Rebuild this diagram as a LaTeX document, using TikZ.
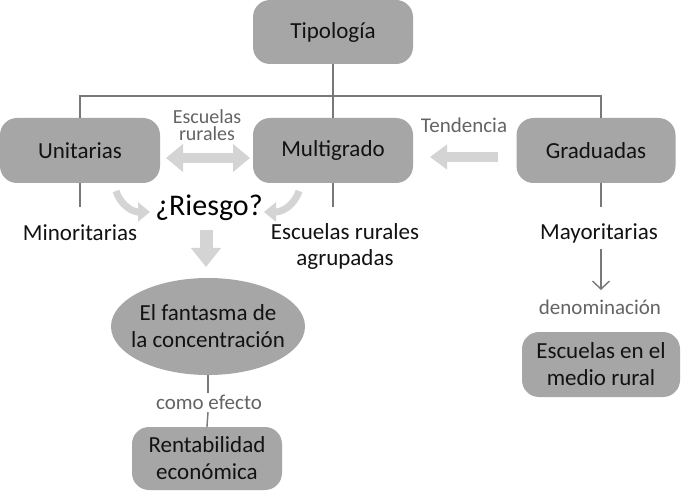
\documentclass[tikz,border=0pt]{standalone}
\usepackage{fontspec}
\setmainfont{Carlito}
\usetikzlibrary{arrows.meta,shapes.geometric}
\definecolor{boxgray}{RGB}{166,166,166}
\definecolor{linegray}{RGB}{120,120,120}
\definecolor{arrowgray}{RGB}{212,212,212}
\definecolor{txtgray}{RGB}{100,100,100}
\definecolor{txtdark}{RGB}{18,18,18}
\tikzset{
  box/.style={draw=none, fill=boxgray, rounded corners=17pt, align=center,
    text=txtdark, font=\fontsize{23}{27}\selectfont, inner sep=0pt},
  lbl/.style={text=txtdark, font=\fontsize{23}{26}\selectfont, align=center, inner sep=0pt},
  glbl/.style={text=txtgray, font=\fontsize{21}{16}\selectfont, align=center, inner sep=0pt},
  conn/.style={draw=linegray, line width=1.4pt},
  bigarrow/.style={draw=arrowgray, line width=10pt},
}
\begin{document}
\begin{tikzpicture}[x=1pt,y=-1pt]
\useasboundingbox[fill=white] (0,0) rectangle (681,492);

% boxes
\node[box, minimum width=160pt, minimum height=64pt] (tip) at (333,32) {Tipología};
\node[box, minimum width=160pt, minimum height=65pt] (uni) at (80,150.5) {Unitarias};
\node[box, minimum width=160pt, minimum height=65pt] (mul) at (333,150.5) {Multigrado};
\node[box, minimum width=159pt, minimum height=65pt] (gra) at (596,150.5) {Graduadas};
\node[box, minimum width=158pt, minimum height=65pt] (med) at (601,364.5) {Escuelas en el\\medio rural};
\node[box, minimum width=150pt, minimum height=63pt] (ren) at (207,458.5) {Rentabilidad\\económica};
\node[ellipse, fill=boxgray, text=txtdark, align=center, inner xsep=-14pt, inner ysep=-8pt,
  minimum width=194pt, minimum height=97pt, font=\fontsize{23}{27}\selectfont] (fan) at (208,326.5) {El fantasma de\\la concentración};

% tree lines
\coordinate (jun) at (333,96);
\coordinate (grn) at (601,118);
\draw[conn] (tip.south) -- (mul.north);
\draw[conn] (uni.north) |- (jun) -| (grn);

% labels below
\node[lbl] (min) at (80,233) {Minoritarias};
\node[lbl] (agr) at (345,246) {Escuelas rurales\\agrupadas};
\node[lbl] (may) at (599,233) {Mayoritarias};
\coordinate (uniend) at (80,207);
\coordinate (mulend) at (333,207);
\coordinate (grastart) at (601,183);
\coordinate (graend) at (601,207);
\draw[conn] (uni.south) -- (uniend);
\draw[conn] (mul.south) -- (mulend);
\draw[conn] (grastart) -- (graend);

\coordinate (maya) at (601,249);
\coordinate (mayb) at (601,290);
\draw[conn, -{Straight Barb[length=8pt,width=17pt,line width=1.4pt]}] (maya) -- (mayb);
\node[glbl] (den) at (600,307) {denominación};

% ellipse to rentabilidad
\node[glbl] (efe) at (209,402) {como efecto};
\coordinate (efea) at (208,393);
\coordinate (efeb) at (208,412);
\draw[conn] (fan.south) -- (efea);
\draw[conn] (efeb) -- (ren.north);

% grey labels on arrows
\node[glbl, font=\fontsize{20}{17}\selectfont] (esr) at (207,125) {Escuelas\\rurales};
\node[glbl] (ten) at (464,125) {Tendencia};

% big light arrows
\coordinate (dl) at (166,158);
\coordinate (dr) at (250,158);
\draw[bigarrow, {Triangle[length=17pt,width=27pt]}-{Triangle[length=17pt,width=27pt]}] (dl) -- (dr);
\coordinate (tl) at (430,157);
\coordinate (tr) at (498,157);
\draw[bigarrow, -{Triangle[length=17pt,width=24pt]}] (tr) -- (tl);

% Riesgo
\node[text=black, font=\fontsize{30}{32}\selectfont, inner sep=0pt] (rie) at (209,208) {¿Riesgo?};
\coordinate (cla) at (116,191);
\coordinate (clb) at (150,212);
\draw[draw=arrowgray, line width=7pt, -{Triangle[length=12pt,width=19pt]}] (cla) .. controls (121,206) and (133,212) .. (clb);
\coordinate (cra) at (299,191);
\coordinate (crb) at (264,212);
\draw[draw=arrowgray, line width=7pt, -{Triangle[length=12pt,width=19pt]}] (cra) .. controls (294,206) and (282,212) .. (crb);
\coordinate (da) at (206,230);
\coordinate (db) at (206,267);
\draw[draw=arrowgray, line width=13pt, -{Triangle[length=19pt,width=29pt]}] (da) -- (db);
\end{tikzpicture}
\end{document}
